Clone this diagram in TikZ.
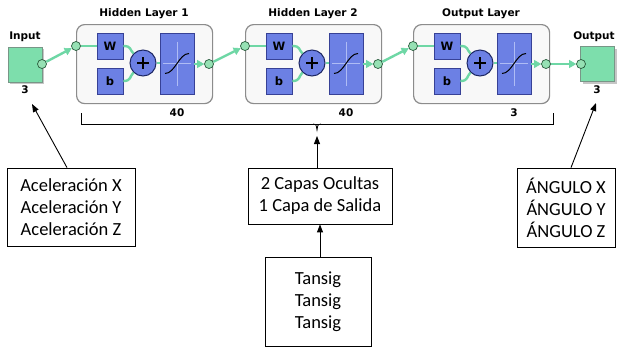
\documentclass[tikz,border=0pt]{standalone}
\usepackage{fontspec}
\setmainfont{Carlito}
\newfontfamily\lblfont{DejaVu Sans}
\usetikzlibrary{arrows.meta,calc}
\definecolor{mint}{RGB}{125,222,172}
\definecolor{mintD}{RGB}{120,150,135}
\definecolor{wireG}{RGB}{110,215,165}
\definecolor{portF}{RGB}{150,225,180}
\definecolor{portD}{RGB}{40,90,60}
\definecolor{blueF}{RGB}{108,128,228}
\definecolor{blueD}{RGB}{55,65,150}
\definecolor{sumD}{RGB}{30,40,100}
\definecolor{crossC}{RGB}{175,188,245}
\definecolor{layD}{RGB}{140,140,140}
\definecolor{layF}{RGB}{248,248,248}
\begin{document}
\begin{tikzpicture}[x=1pt,y=-1pt,
  lbl/.style={font=\lblfont\bfseries\fontsize{10.5}{12}\selectfont, inner sep=0pt},
  iobox/.style={draw=mintD, fill=mint, minimum width=34pt, minimum height=35pt, inner sep=0pt, line width=0.8pt},
  port/.style={circle, draw=portD, fill=portF, minimum size=9pt, inner sep=0pt, line width=0.7pt},
  layerbox/.style={draw=layD, fill=layF, rounded corners=8pt, line width=1.2pt, minimum width=136pt, minimum height=79pt, inner sep=0pt},
  wbox/.style={draw=blueD, fill=blueF, minimum width=26pt, minimum height=26pt, inner sep=0pt, line width=0.7pt, font=\lblfont\bfseries\fontsize{11.5}{12}\selectfont},
  sumc/.style={circle, draw=sumD, fill=blueF, minimum size=26pt, inner sep=0pt, line width=1pt},
  tfbox/.style={draw=blueD, fill=blueF, minimum width=34pt, minimum height=61pt, inner sep=0pt, line width=0.7pt},
  wire/.style={draw=wireG, line width=2.4pt},
  garrow/.style={wire, -{Triangle[length=7pt,width=8pt,fill=wireG,line width=0.6pt]}},
  textbox/.style={draw, line width=0.8pt, align=center, inner sep=0pt, font=\fontsize{18.5}{22}\selectfont},
  barrow/.style={draw=black, line width=0.9pt, -{Triangle[length=8pt,width=6pt]}}
]
\useasboundingbox (0,0) rectangle (617,349);
\fill[white] (0,0) rectangle (617,349);

% input / output blocks
\fill[gray!45] (9.5,48.5) rectangle (43.5,83.5);
\node[iobox] (inbox) at (25,64.5) {};
\fill[gray!45] (582.5,48.5) rectangle (616.5,83.5);
\node[iobox] (outbox) at (597,64) {};
\node[lbl] (inlbl) at (25,37) {Input};
\node[lbl] (outlbl) at (594,37) {Output};
\node[lbl] (in3) at (25,90) {3};
\node[lbl] (out3lbl) at (597,90) {3};
\node[port] (ip) at (42,64) {};
\node[port] (op) at (581,64) {};

% layers
\foreach \i/\L/\n/\t in {1/76/40/Hidden Layer 1,2/245/40/Hidden Layer 2,3/413/3/Output Layer}{
  \node[layerbox, anchor=north west] (lay\i) at (\L,24) {};
  \node[lbl] (title\i) at (\L+68,14) {\t};
  \node[lbl] (size\i) at (\L+101,113) {\n};
  \node[port] (in\i) at (\L,46) {};
  \node[wbox] (W\i) at (\L+34,46) {W};
  \node[wbox] (b\i) at (\L+34,81) {b};
  \node[sumc] (sum\i) at (\L+67,63) {};
  \node[tfbox] (tf\i) at (\L+101,63.5) {};
  \node[port] (out\i) at (\L+133,64) {};
  % plus sign
  \draw[black, line width=1.1pt, shift={(sum\i.center)}] (-6,0) -- (6,0) (0,-6) -- (0,6);
  % transfer function icon
  \draw[crossC, line width=0.6pt, shift={(tf\i.center)}] (-14,0) -- (14,0) (0,-22) -- (0,22);
  \draw[black, line width=1pt, shift={(tf\i.center)}] (-12,10) .. controls (-2,10) and (2,-10) .. (12,-10);
  % wires
  \draw[wire] (in\i) -- (W\i);
  \draw[wire] (W\i.east) .. controls +(8,0) and +(-4,-4) .. (sum\i.north west);
  \draw[wire] (b\i.east) .. controls +(8,0) and +(-4,4) .. (sum\i.south west);
  \draw[wire] (sum\i.east) -- (tf\i.west |- sum\i.east);
  \draw[garrow] (tf\i.east |- out\i) -- (out\i.west);
}
\draw[garrow] (ip) -- (in1);
\draw[garrow] (out1) -- (in2);
\draw[garrow] (out2) -- (in3);
\draw[garrow] (out3) -- (op);

% bracket
\coordinate (nub) at (317,130);
\draw[line width=0.8pt] (81,113) -- (81,124) -- (553,124) -- (553,113);
\draw[line width=0.8pt] (313,124) .. controls (316,124) .. (nub) .. controls (318,124) .. (321,124);

% bottom boxes
\node[textbox, minimum width=128pt, minimum height=78pt] (acc) at (71,207)
  {Aceleración X\\Aceleración Y\\Aceleración Z};
\node[textbox, minimum width=144pt, minimum height=56pt] (capas) at (320,196)
  {2 Capas Ocultas\\1 Capa de Salida};
\node[textbox, minimum width=106pt, minimum height=89pt] (tansig) at (318,301.5)
  {Tansig\\Tansig\\Tansig};
\node[textbox, minimum width=98pt, minimum height=79pt] (angulo) at (566,207.5)
  {ÁNGULO X\\ÁNGULO Y\\ÁNGULO Z};

\coordinate (inTip) at (32,104);
\coordinate (outTip) at (596,103);
\draw[barrow] ($(acc.north)+(-4,0)$) -- (inTip);
\draw[barrow, shorten >=6pt] (capas.north -| nub) -- (nub);
\draw[barrow] (tansig.north -| capas.south) -- (capas.south);
\draw[barrow] ($(angulo.north)+(5,0)$) -- (outTip);
\end{tikzpicture}
\end{document}
